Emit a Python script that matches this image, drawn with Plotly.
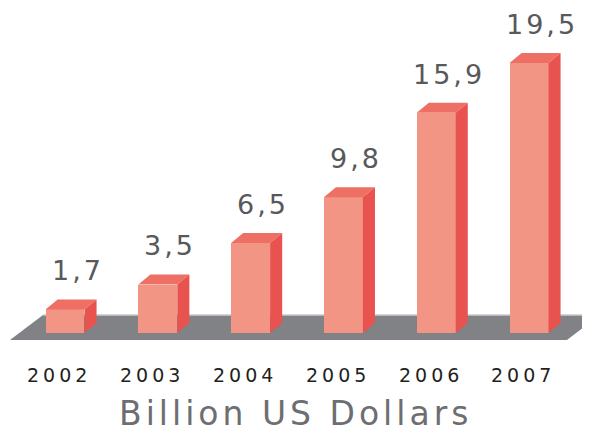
import plotly.graph_objects as go

years = ["2002", "2003", "2004", "2005", "2006", "2007"]
values = [1.7, 3.5, 6.5, 9.8, 15.9, 19.5]
value_labels = ["1,7", "3,5", "6,5", "9,8", "15,9", "19,5"]
axis_title = "Billion US Dollars"

FRONT = "#F29585"
TOP = "#EE6F63"
SIDE = "#E8534F"
FLOOR = "#808285"

W, H = 582, 428  # page body has an 8px margin

BAR_W = 0.42
DX = 0.13   # depth offset in x units
DY = 0.72   # depth offset in value units

xs = list(range(len(years)))


def spaced(text, px):
    return f'<span style="letter-spacing:{px}px">{text}</span>'


fig = go.Figure()
fig.add_trace(go.Bar(x=xs, y=values, width=BAR_W, marker=dict(color=FRONT, line=dict(width=0)),
                     hoverinfo="skip", showlegend=False))

shapes = []
# floor parallelogram (below bars)
fl, fr = -0.593, 5.409
ftop, fbot = 1.3, -0.5
sk = 0.356
shapes.append(dict(type="path", layer="below", xref="x", yref="y",
                   path=f"M {fl},{fbot} L {fr},{fbot} L {fr+sk},{ftop} L {fl+sk},{ftop} Z",
                   fillcolor=FLOOR, line=dict(width=0)))
shapes.append(dict(type="line", layer="below", xref="x", yref="y",
                   x0=fl+sk, x1=fr+sk, y0=ftop, y1=ftop,
                   line=dict(color="#C9CACC", width=1.5)))

annotations = []
for x, v, lab, yr in zip(xs, values, value_labels, years):
    l = x - BAR_W / 2
    r = x + BAR_W / 2
    shapes.append(dict(type="path", layer="above", xref="x", yref="y",
                       path=f"M {l},{v} L {r},{v} L {r+DX},{v+DY} L {l+DX},{v+DY} Z",
                       fillcolor=TOP, line=dict(width=0)))
    shapes.append(dict(type="path", layer="above", xref="x", yref="y",
                       path=f"M {r},{0} L {r},{v} L {r+DX},{v+DY} L {r+DX},{DY} Z",
                       fillcolor=SIDE, line=dict(width=0)))
    annotations.append(dict(x=x + 0.135, y=v + 2.8, xref="x", yref="y", text=spaced(lab, 3),
                            showarrow=False,
                            font=dict(family="DejaVu Sans", size=27, color="#58595B"),
                            xanchor="center", yanchor="middle"))
    annotations.append(dict(x=x - 0.06, y=-3.03, xref="x", yref="y", text=spaced(yr, 4),
                            showarrow=False,
                            font=dict(family="DejaVu Sans", size=19, color="#231F20"),
                            xanchor="center", yanchor="middle"))

annotations.append(dict(x=(295 - 8) / W, y=1 - (413 - 8) / H, xref="paper", yref="paper",
                        text=spaced(axis_title, 4), showarrow=False,
                        font=dict(family="DejaVu Sans", size=33, color="#6D6E71"),
                        xanchor="center", yanchor="middle"))

fig.update_layout(
    width=W, height=H,
    margin=dict(l=0, r=0, t=0, b=0),
    paper_bgcolor="white", plot_bgcolor="white",
    xaxis=dict(range=[-0.6142, 5.657], visible=False, fixedrange=True),
    yaxis=dict(range=[-7.437, 23.466], visible=False, fixedrange=True),
    shapes=shapes, annotations=annotations, bargap=0,
)

fig.write_html("out.html")
